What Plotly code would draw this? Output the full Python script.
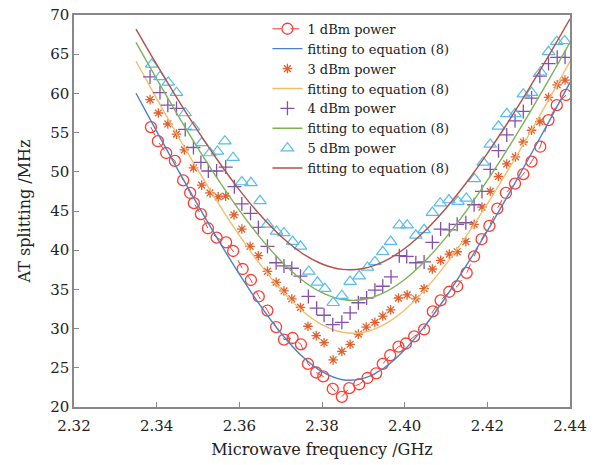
import plotly.graph_objects as go

# ---------------- data ----------------
freq_1dbm = [2.3386, 2.3403, 2.3423, 2.3444, 2.3464, 2.3481, 2.3490, 2.3507, 2.3524, 2.3545,
             2.3568, 2.3585, 2.3608, 2.3628, 2.3647, 2.3668, 2.3689, 2.3708, 2.3729, 2.3749,
             2.3766, 2.3786, 2.3803, 2.3826, 2.3848, 2.3866, 2.3890, 2.3910, 2.3931, 2.3947,
             2.3965, 2.3985, 2.4003, 2.4023, 2.4047, 2.4068, 2.4087, 2.4108, 2.4127, 2.4150,
             2.4168, 2.4186, 2.4205, 2.4224, 2.4245, 2.4267, 2.4287, 2.4307, 2.4328, 2.4348,
             2.4368, 2.4390]
split_1dbm = [55.7, 53.9, 52.4, 51.4, 48.9, 47.3, 46.0, 44.6, 42.8, 41.6,
              41.0, 39.9, 37.6, 36.2, 34.1, 32.3, 30.2, 28.6, 28.8, 28.0,
              25.5, 24.4, 23.9, 22.3, 21.3, 22.4, 22.9, 23.7, 24.3, 25.5,
              26.6, 27.7, 28.1, 29.0, 29.9, 32.2, 33.6, 34.7, 35.4, 37.1,
              39.2, 41.4, 43.1, 45.3, 47.3, 48.5, 49.7, 51.3, 53.2, 56.6,
              58.5, 59.8]

freq_3dbm = [2.3384, 2.3404, 2.3427, 2.3448, 2.3467, 2.3489, 2.3509, 2.3529, 2.3549, 2.3567,
             2.3587, 2.3606, 2.3626, 2.3646, 2.3668, 2.3689, 2.3708, 2.3727, 2.3748, 2.3766,
             2.3786, 2.3805, 2.3827, 2.3848, 2.3868, 2.3888, 2.3907, 2.3928, 2.3947, 2.3966,
             2.3985, 2.4006, 2.4027, 2.4047, 2.4067, 2.4087, 2.4108, 2.4127, 2.4148, 2.4168,
             2.4187, 2.4207, 2.4227, 2.4247, 2.4268, 2.4287, 2.4307, 2.4327, 2.4348, 2.4369,
             2.4388]
split_3dbm = [59.2, 57.5, 56.1, 54.8, 52.8, 50.5, 48.3, 47.3, 46.8, 46.9,
              44.5, 42.7, 40.5, 39.3, 37.3, 35.9, 34.8, 33.8, 32.7, 30.3,
              29.1, 28.2, 26.0, 27.1, 28.0, 29.3, 30.2, 30.8, 31.6, 32.4,
              33.9, 34.3, 33.8, 35.1, 37.6, 38.7, 39.5, 39.8, 41.1, 43.3,
              45.5, 47.5, 49.4, 51.0, 51.9, 53.8, 55.3, 56.4, 59.5, 61.1,
              61.7]

freq_4dbm = [2.3384, 2.3408, 2.3427, 2.3448, 2.3469, 2.3489, 2.3507, 2.3525, 2.3545, 2.3567,
             2.3588, 2.3606, 2.3627, 2.3646, 2.3668, 2.3689, 2.3708, 2.3727, 2.3748, 2.3767,
             2.3787, 2.3805, 2.3826, 2.3848, 2.3868, 2.3888, 2.3908, 2.3928, 2.3947, 2.3967,
             2.3987, 2.4005, 2.4027, 2.4047, 2.4067, 2.4087, 2.4108, 2.4127, 2.4148, 2.4168,
             2.4187, 2.4207, 2.4227, 2.4247, 2.4267, 2.4287, 2.4307, 2.4327, 2.4348, 2.4369,
             2.4388]
split_4dbm = [62.1, 60.1, 58.5, 58.1, 55.4, 53.1, 51.2, 50.1, 50.1, 50.6,
              48.1, 45.9, 44.7, 42.9, 40.5, 38.4, 38.0, 37.7, 36.7, 34.1,
              32.6, 31.7, 30.5, 30.8, 32.0, 33.3, 33.9, 34.9, 35.4, 36.6,
              39.3, 39.2, 38.4, 38.5, 41.0, 42.7, 42.6, 43.3, 43.5, 45.8,
              47.5, 50.3, 52.7, 54.7, 56.5, 57.7, 59.4, 62.2, 63.8, 64.6,
              64.6]

freq_5dbm = [2.3388, 2.3408, 2.3428, 2.3448, 2.3469, 2.3489, 2.3509, 2.3529, 2.3547, 2.3565,
             2.3585, 2.3606, 2.3628, 2.3650, 2.3668, 2.3690, 2.3708, 2.3729, 2.3748, 2.3768,
             2.3789, 2.3807, 2.3827, 2.3848, 2.3868, 2.3890, 2.3910, 2.3928, 2.3947, 2.3966,
             2.3987, 2.4006, 2.4027, 2.4047, 2.4067, 2.4086, 2.4107, 2.4129, 2.4149, 2.4169,
             2.4190, 2.4207, 2.4227, 2.4247, 2.4267, 2.4287, 2.4307, 2.4329, 2.4348, 2.4368,
             2.4387]
split_5dbm = [63.7, 62.1, 61.4, 60.1, 57.5, 55.7, 53.7, 52.4, 52.6, 53.9,
              51.8, 48.7, 48.6, 46.3, 43.3, 42.4, 42.2, 41.1, 40.5, 37.3,
              35.9, 35.1, 33.3, 34.2, 36.0, 36.7, 37.8, 38.5, 39.8, 41.1,
              43.2, 43.2, 41.9, 42.6, 44.8, 46.0, 46.4, 46.2, 46.6, 49.1,
              51.2, 53.5, 55.8, 57.4, 57.4, 59.9, 60.1, 62.7, 65.3, 66.6,
              66.7]

fit_freq = [2.335, 2.340, 2.345, 2.350, 2.355, 2.360, 2.365, 2.370, 2.375, 2.380, 2.385,
            2.390, 2.395, 2.400, 2.405, 2.410, 2.415, 2.420, 2.425, 2.430, 2.435, 2.440]
fit_1dbm = [60.02, 55.15, 50.37, 45.71, 41.22, 36.95, 32.99, 29.48, 26.57, 24.50, 23.48,
            23.65, 24.98, 27.31, 30.41, 34.06, 38.12, 42.46, 47.00, 51.70, 56.50, 61.40]
fit_3dbm = [64.10, 59.33, 54.69, 50.20, 45.91, 41.89, 38.22, 35.00, 32.38, 30.51, 29.53,
            29.53, 30.51, 32.38, 35.00, 38.22, 41.89, 45.91, 50.20, 54.69, 59.33, 64.10]
fit_4dbm = [66.50, 61.84, 57.33, 53.00, 48.90, 45.08, 41.64, 38.66, 36.27, 34.59, 33.71,
            33.71, 34.59, 36.27, 38.66, 41.64, 45.08, 48.90, 53.00, 57.33, 61.84, 66.50]
fit_5dbm = [68.21, 63.69, 59.33, 55.18, 51.28, 47.70, 44.51, 41.81, 39.68, 38.24, 37.55,
            37.66, 38.57, 40.21, 42.51, 45.36, 48.67, 52.35, 56.32, 60.54, 64.94, 69.50]

x_ticks = [2.32, 2.34, 2.36, 2.38, 2.40, 2.42, 2.44]
y_ticks = [20, 25, 30, 35, 40, 45, 50, 55, 60, 65, 70]

# ---------------- figure ----------------
SERIF = "DejaVu Serif"
fig = go.Figure()

fit_name = "fitting to equation (8)"

fig.add_trace(go.Scatter(x=freq_1dbm, y=split_1dbm, mode="lines+markers", name="1 dBm power",
                         line=dict(color="#ff3b30", width=1, dash="dash"),
                         marker=dict(symbol="circle-open", size=11, color="#ff3b30",
                                     line=dict(width=1.3, color="#ff3b30"))))
fig.add_trace(go.Scatter(x=fit_freq, y=fit_1dbm, mode="lines", name=fit_name,
                         line=dict(color="#4a82c8", width=1.4, shape="spline")))
fig.add_trace(go.Scatter(x=freq_3dbm, y=split_3dbm, mode="markers", name="3 dBm power",
                         marker=dict(symbol="asterisk-open", size=8, color="#e2612c",
                                     line=dict(width=1.3, color="#e2612c"))))
fig.add_trace(go.Scatter(x=fit_freq, y=fit_3dbm, mode="lines", name=fit_name,
                         line=dict(color="#f3bd6e", width=1.4, shape="spline")))
fig.add_trace(go.Scatter(x=freq_4dbm, y=split_4dbm, mode="markers", name="4 dBm power",
                         marker=dict(symbol="cross-thin-open", size=10, color="#8450ac",
                                     line=dict(width=1.3, color="#8450ac"))))
fig.add_trace(go.Scatter(x=fit_freq, y=fit_4dbm, mode="lines", name=fit_name,
                         line=dict(color="#7db356", width=1.4, shape="spline")))
fig.add_trace(go.Scatter(x=freq_5dbm, y=split_5dbm, mode="markers", name="5 dBm power",
                         marker=dict(symbol="triangle-up-open", size=11, color="#55bde9",
                                     line=dict(width=1.2, color="#55bde9"))))
fig.add_trace(go.Scatter(x=fit_freq, y=fit_5dbm, mode="lines", name=fit_name,
                         line=dict(color="#b4504a", width=1.4, shape="spline")))

axis_common = dict(showgrid=False, zeroline=False, showline=True, mirror=True,
                   linecolor="#888888", linewidth=1.5, ticks="inside", ticklen=5,
                   tickcolor="#888888", tickwidth=1, automargin=False,
                   tickfont=dict(family=SERIF, size=15, color="#222222"))

fig.update_layout(
    width=599, height=465,
    margin=dict(l=74, r=29, t=15, b=58, autoexpand=False),
    paper_bgcolor="white", plot_bgcolor="white",
    font=dict(family=SERIF, color="#222222"),
    showlegend=True,
    legend=dict(x=0.39, y=1.003, xanchor="left", yanchor="top",
                bgcolor="rgba(255,255,255,0)", borderwidth=0,
                font=dict(family=SERIF, size=13, color="#222222"),
                tracegroupgap=0),
    xaxis=dict(range=[2.32, 2.44], tickvals=x_ticks, tickformat=".2f",
               ticklabelstandoff=4,
               title=dict(text="Microwave frequency /GHz", font=dict(family=SERIF, size=16),
                          standoff=10),
               **axis_common),
    yaxis=dict(range=[20, 70], tickvals=y_ticks,
               title=dict(text="AT splitting /MHz", font=dict(family=SERIF, size=16),
                          standoff=16),
               **axis_common),
)

fig.write_html("out.html")
